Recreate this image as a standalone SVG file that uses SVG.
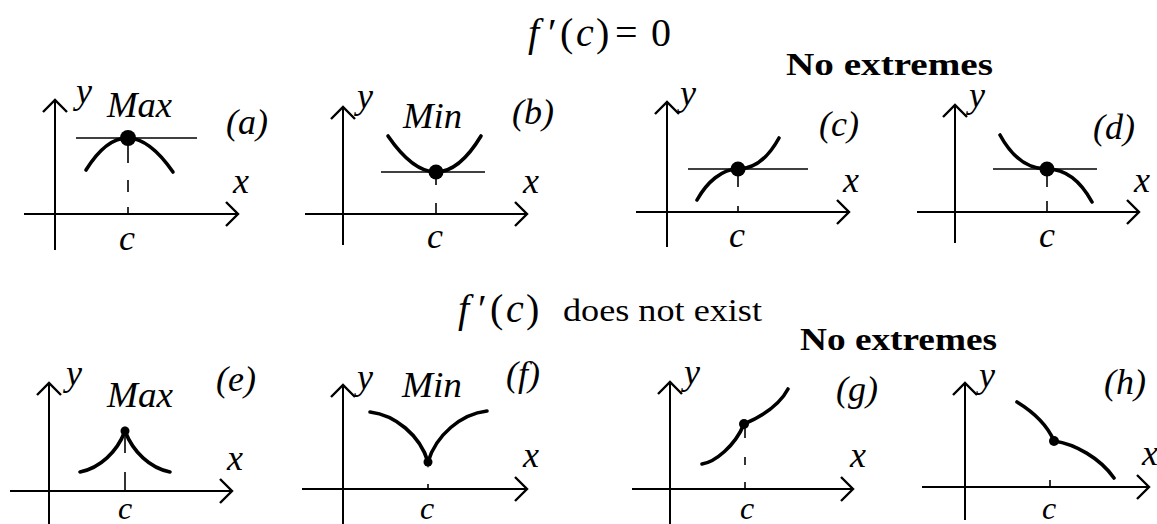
<svg xmlns="http://www.w3.org/2000/svg" width="1157" height="524" viewBox="0 0 1157 524">
<style>
.ax{stroke:#000;stroke-width:2;fill:none}
.tan{stroke:#000;stroke-width:1.4;fill:none}
.cv{stroke:#000;stroke-width:3.6;fill:none;stroke-linecap:round}
.dl{stroke:#000;stroke-width:1.6}
.it{font-family:"Liberation Serif",serif;font-style:italic;font-size:36px;fill:#000}
.cb{font-family:"Liberation Serif",serif;font-style:italic;font-size:32px;fill:#000}
.up{font-family:"Liberation Serif",serif;font-size:40px;fill:#000}
.tx{font-family:"Liberation Serif",serif;font-size:32px;fill:#000}
.bd{font-family:"Liberation Serif",serif;font-size:32px;font-weight:bold;fill:#000}
</style>
<defs>
<marker id="arr" markerUnits="userSpaceOnUse" markerWidth="30" markerHeight="30" viewBox="-15 -15 30 30" refX="0" refY="0" orient="auto">
<path d="M-12,-12 L0,0 L-12,12" fill="none" stroke="#000" stroke-width="2.4"/>
</marker>
</defs>
<rect width="1157" height="524" fill="#fff"/>

<g id="titles">
<text class="it" style="font-size:40px" x="528" y="46">f</text>
<text class="up" x="548" y="46">′</text>
<text class="up" x="560" y="46">(</text>
<text class="it" style="font-size:40px" x="576" y="46">c</text>
<text class="up" x="596" y="46">)</text>
<text class="up" x="615" y="46">=</text>
<text class="up" x="651" y="46">0</text>
<text class="bd" x="786" y="75" textLength="207" lengthAdjust="spacingAndGlyphs">No extremes</text>

<text class="it" style="font-size:40px" x="458" y="322">f</text>
<text class="up" x="478" y="322">′</text>
<text class="up" x="490" y="322">(</text>
<text class="it" style="font-size:40px" x="506" y="322">c</text>
<text class="up" x="526" y="322">)</text>
<text class="tx" x="563" y="321" textLength="199" lengthAdjust="spacingAndGlyphs">does not exist</text>
<text class="bd" x="800" y="350" textLength="197" lengthAdjust="spacingAndGlyphs">No extremes</text>
</g>

<g id="panel-a">
<path class="ax" d="M55,250 L55,100" marker-end="url(#arr)"/>
<path class="ax" d="M24,214 L238,214" marker-end="url(#arr)"/>
<line class="tan" x1="76" y1="138" x2="197" y2="138"/>
<path class="cv" d="M86,170 Q126.5,105 173,172"/>
<line class="dl" x1="128" y1="143" x2="128" y2="163"/>
<line class="dl" x1="128" y1="180" x2="128" y2="192"/>
<line class="dl" x1="128" y1="207" x2="128" y2="214"/>
<circle cx="128" cy="138" r="8"/>
<text class="it" x="76" y="103">y</text>
<text class="it" x="107" y="117" textLength="65" lengthAdjust="spacingAndGlyphs">Max</text>
<text class="it" x="226" y="134">(a)</text>
<text class="it" x="233" y="193">x</text>
<text class="it" x="119" y="250">c</text>
</g>

<g id="panel-b">
<path class="ax" d="M343,245 L343,107" marker-end="url(#arr)"/>
<path class="ax" d="M305,214 L527,214" marker-end="url(#arr)"/>
<line class="tan" x1="381" y1="172" x2="485" y2="172"/>
<path class="cv" d="M388,136 Q437.5,208 481,136"/>
<line class="dl" x1="436" y1="172" x2="436" y2="185"/>
<line class="dl" x1="436" y1="203" x2="436" y2="214"/>
<circle cx="436" cy="172" r="7.5"/>
<text class="it" x="357" y="108">y</text>
<text class="it" x="403" y="128" textLength="59" lengthAdjust="spacingAndGlyphs">Min</text>
<text class="it" x="512" y="124">(b)</text>
<text class="it" x="523" y="193">x</text>
<text class="it" x="427" y="248">c</text>
</g>

<g id="panel-c">
<path class="ax" d="M667,247 L667,102" marker-end="url(#arr)"/>
<path class="ax" d="M636,212 L849,212" marker-end="url(#arr)"/>
<line class="tan" x1="688" y1="169" x2="808" y2="169"/>
<path class="cv" d="M697,200 C707,182 722,169 738,169 C754,169 768,158 779,138"/>
<line class="dl" x1="738" y1="169" x2="738" y2="187"/>
<line class="dl" x1="738" y1="206" x2="738" y2="212"/>
<circle cx="738" cy="169" r="7.5"/>
<text class="it" x="680" y="105">y</text>
<text class="it" x="819" y="136">(c)</text>
<text class="it" x="843" y="192">x</text>
<text class="it" x="729" y="247">c</text>
</g>

<g id="panel-d">
<path class="ax" d="M955,243 L955,105" marker-end="url(#arr)"/>
<path class="ax" d="M917,212 L1139,212" marker-end="url(#arr)"/>
<line class="tan" x1="993" y1="169" x2="1097" y2="169"/>
<path class="cv" d="M1000,135 C1012,157 1028,169 1047,169 C1064,169 1080,180 1092,202"/>
<line class="dl" x1="1047" y1="169" x2="1047" y2="187"/>
<line class="dl" x1="1047" y1="201" x2="1047" y2="212"/>
<circle cx="1047" cy="169" r="7.5"/>
<text class="it" x="969" y="107">y</text>
<text class="it" x="1093" y="139">(d)</text>
<text class="it" x="1134" y="192">x</text>
<text class="it" x="1039" y="247">c</text>
</g>

<g id="panel-e">
<path class="ax" d="M49,524 L49,383" marker-end="url(#arr)"/>
<path class="ax" d="M10,491 L232,491" marker-end="url(#arr)"/>
<path class="cv" d="M80,472 C100,468 117,452 125,431 C133,452 150,468 170,472"/>
<line class="dl" x1="125" y1="430" x2="125" y2="453"/>
<line class="dl" x1="125" y1="472" x2="125" y2="491"/>
<circle cx="125" cy="431" r="4.5"/>
<text class="it" x="66" y="385">y</text>
<text class="it" x="107" y="407" textLength="66" lengthAdjust="spacingAndGlyphs">Max</text>
<text class="it" x="216" y="391">(e)</text>
<text class="it" x="227" y="470">x</text>
<text class="cb" x="118" y="519">c</text>
</g>

<g id="panel-f">
<path class="ax" d="M343,524 L343,385" marker-end="url(#arr)"/>
<path class="ax" d="M302,489 L527,489" marker-end="url(#arr)"/>
<path class="cv" d="M370,412 C395,415 420,435 428,462 C436,435 461,414 487,411"/>
<line class="dl" x1="428" y1="484" x2="428" y2="489"/>
<circle cx="428" cy="462" r="4.5"/>
<text class="it" x="357" y="389">y</text>
<text class="it" x="402" y="397" textLength="60" lengthAdjust="spacingAndGlyphs">Min</text>
<text class="it" x="506" y="386">(f)</text>
<text class="it" x="523" y="467">x</text>
<text class="cb" x="420" y="519">c</text>
</g>

<g id="panel-g">
<path class="ax" d="M670,524 L670,382" marker-end="url(#arr)"/>
<path class="ax" d="M632,489 L853,489" marker-end="url(#arr)"/>
<path class="cv" d="M702,464 C715,462 735,446 744,424 C758,418 778,408 788,389"/>
<line class="dl" x1="745" y1="424" x2="745" y2="438"/>
<line class="dl" x1="745" y1="457" x2="745" y2="465"/>
<line class="dl" x1="745" y1="482" x2="745" y2="489"/>
<circle cx="744" cy="424" r="5"/>
<text class="it" x="684" y="384">y</text>
<text class="it" x="836" y="401">(g)</text>
<text class="it" x="850" y="467">x</text>
<text class="cb" x="740" y="519">c</text>
</g>

<g id="panel-h">
<path class="ax" d="M965,520 L965,383" marker-end="url(#arr)"/>
<path class="ax" d="M922,487 L1149,487" marker-end="url(#arr)"/>
<path class="cv" d="M1017,402 C1030,410 1046,422 1054,441 C1075,444 1100,458 1114,478"/>
<line class="dl" x1="1050" y1="480" x2="1050" y2="487"/>
<circle cx="1054" cy="441" r="5"/>
<text class="it" x="979" y="387">y</text>
<text class="it" x="1104" y="394">(h)</text>
<text class="it" x="1142" y="465">x</text>
<text class="cb" x="1042" y="519">c</text>
</g>
</svg>
